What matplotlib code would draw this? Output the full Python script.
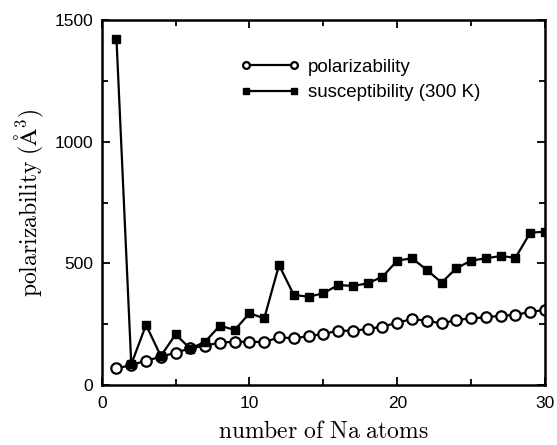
import numpy as np
import matplotlib.pyplot as plt
from matplotlib.ticker import MultipleLocator

plt.rcParams["mathtext.fontset"] = "cm"

# data
n_atoms = list(range(1, 31))
polarizability = [68, 82, 100, 116, 133, 151, 162, 174, 178, 178,
                  176, 196, 192, 201, 210, 223, 223, 230, 240, 256,
                  271, 264, 253, 267, 274, 278, 285, 288, 301, 308]
susceptibility = [1422, 85, 247, 119, 208, 149, 178, 244, 226, 295,
                  274, 493, 370, 363, 377, 411, 407, 418, 445, 511,
                  521, 473, 421, 480, 511, 521, 530, 523, 626, 630]

fig = plt.figure(figsize=(5.57, 4.45), dpi=100)
ax = fig.add_axes([0.1826, 0.1348, 0.7959, 0.8202])

ax.plot(n_atoms, polarizability, "-o", color="black", lw=1.6,
        mfc="white", mec="black", mew=1.6, ms=7.5, label="polarizability")
ax.plot(n_atoms, susceptibility, "-s", color="black", lw=1.6,
        mfc="black", mec="black", ms=6, label="susceptibility (300 K)")

ax.set_xlim(0, 30)
ax.set_ylim(0, 1500)
ax.xaxis.set_major_locator(MultipleLocator(10))
ax.xaxis.set_minor_locator(MultipleLocator(5))
ax.yaxis.set_major_locator(MultipleLocator(500))
ax.yaxis.set_minor_locator(MultipleLocator(250))
ax.tick_params(which="both", direction="in", top=True, right=True,
               width=1.3, labelsize=12.5)
ax.tick_params(axis="x", pad=8)
ax.tick_params(axis="y", pad=6)
ax.tick_params(which="major", length=6)
ax.tick_params(which="minor", length=4)
for lab in ax.get_xticklabels() + ax.get_yticklabels():
    lab.set_family("Liberation Sans")
for s in ax.spines.values():
    s.set_linewidth(1.8)

ax.set_xlabel(r"$\mathrm{number\ of\ Na\ atoms}$", fontsize=17, labelpad=6)
ax.set_ylabel(r"$\mathrm{polarizability\ (\AA^3)}$", fontsize=17, labelpad=6)

ax.legend(loc="upper left", bbox_to_anchor=(0.274, 0.94), frameon=False,
          numpoints=2, markerscale=0.65, handlelength=3.2, handletextpad=0.4,
          labelspacing=0.45, prop={"family": "Liberation Sans", "size": 13.5})

fig.savefig("out.png", dpi=100)
